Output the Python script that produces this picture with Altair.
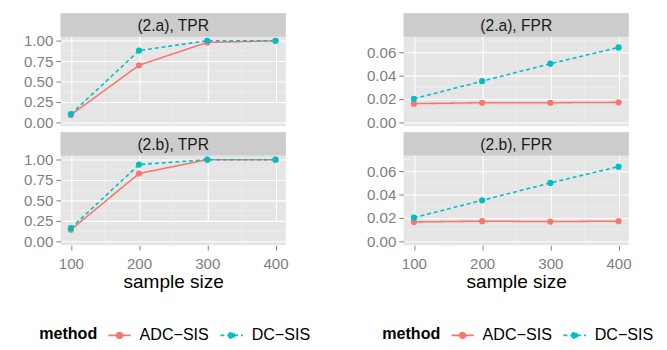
import altair as alt
import pandas as pd

sample_size = [100, 200, 300, 400]
methods = ["ADC\u2212SIS", "DC\u2212SIS"]

tpr_a_adc = [0.09, 0.70, 0.98, 1.00]
tpr_a_dc = [0.10, 0.88, 1.00, 1.00]
tpr_b_adc = [0.14, 0.83, 1.00, 1.00]
tpr_b_dc = [0.16, 0.94, 1.00, 1.00]
fpr_a_adc = [0.0160, 0.0168, 0.0168, 0.0171]
fpr_a_dc = [0.0202, 0.0353, 0.0503, 0.0643]
fpr_b_adc = [0.0165, 0.0172, 0.0168, 0.0172]
fpr_b_dc = [0.0202, 0.0351, 0.0500, 0.0640]

x_ticks = [100, 200, 300, 400]
x_minor = [150, 250, 350]
tpr_ticks = [0.0, 0.25, 0.5, 0.75, 1.0]
tpr_minor = [0.125, 0.375, 0.625, 0.875]
fpr_ticks = [0.0, 0.02, 0.04, 0.06]
fpr_minor = [0.01, 0.03, 0.05, 0.07]

COLORS = ["#F8766D", "#00BFC4"]
FONT = "Liberation Sans"
W, PH, SH = 231, 92, 24

LEG_PATH = "M-1,0L1,0M-0.26,0A0.26,0.26,0,1,1,0.26,0A0.26,0.26,0,1,1,-0.26,0Z"

LEGEND = alt.Legend(
    orient="none", legendX=-22, legendY=318,
    direction="horizontal", title="method", titleOrient="left",
    symbolType=LEG_PATH, symbolSize=529, symbolStrokeWidth=1.6,
)


def make_df(adc, dc):
    rows = []
    for m, vals in zip(methods, [adc, dc]):
        for n, v in zip(sample_size, vals):
            rows.append({"n": n, "method": m, "value": v})
    return pd.DataFrame(rows)


def panel(df, label, ydomain, yticks, yminor, bottom):
    xs = alt.Scale(domain=[85, 415], nice=False, zero=False)
    ys = alt.Scale(domain=ydomain, nice=False, zero=False, range=[SH + PH, SH])
    if bottom:
        xaxis = alt.Axis(values=x_ticks, format="d", title="sample size", grid=True)
    else:
        xaxis = alt.Axis(values=x_ticks, labels=False, ticks=False, title=None, grid=True)
    yaxis = alt.Axis(values=yticks, format=".2f", title=None, grid=True)

    def xe():
        return alt.X("n:Q", scale=xs, axis=xaxis)

    def ye():
        return alt.Y("value:Q", scale=ys, axis=yaxis)

    mx = alt.Chart(pd.DataFrame({"n": x_minor})).mark_rule(
        color="#F2F2F2", strokeWidth=0.6).encode(x=xe())
    my = alt.Chart(pd.DataFrame({"value": yminor})).mark_rule(
        color="#F2F2F2", strokeWidth=0.6).encode(y=ye())

    sd = alt.Chart(pd.DataFrame({"label": [label]}))
    srect = sd.mark_rect(color="#CCCCCC").encode(
        x=alt.value(0), x2=alt.value(W), y=alt.value(0), y2=alt.value(SH))
    stext = sd.mark_text(fontSize=16, color="#1A1A1A", font=FONT).encode(
        x=alt.value(W / 2), y=alt.value(SH / 2 + 1), text="label:N")

    cenc = alt.Color("method:N", scale=alt.Scale(domain=methods, range=COLORS),
                     legend=LEGEND)
    denc = alt.StrokeDash("method:N",
                          scale=alt.Scale(domain=methods, range=[[1, 0], [4, 3]]),
                          legend=LEGEND)
    base = alt.Chart(df)
    line = base.mark_line(strokeWidth=1.6).encode(x=xe(), y=ye(), color=cenc, strokeDash=denc)
    pts = base.mark_point(filled=True, size=40, opacity=1).encode(x=xe(), y=ye(), color=cenc)
    return alt.layer(mx, my, srect, stext, line, pts).properties(width=W, height=SH + PH)


def column(metric, da, db, ydomain, yticks, yminor):
    a = panel(da, f"(2.a), {metric}", ydomain, yticks, yminor, False)
    b = panel(db, f"(2.b), {metric}", ydomain, yticks, yminor, True)
    return alt.vconcat(a, b, spacing=0)


left = column("TPR", make_df(tpr_a_adc, tpr_a_dc), make_df(tpr_b_adc, tpr_b_dc),
              [-0.05, 1.05], tpr_ticks, tpr_minor)
right = column("FPR", make_df(fpr_a_adc, fpr_a_dc), make_df(fpr_b_adc, fpr_b_dc),
               [-0.0035, 0.0735], fpr_ticks, fpr_minor)

chart = alt.hconcat(left, right, spacing=56).resolve_scale(
    color="independent", strokeDash="independent", y="independent", x="independent"
).properties(
    padding={"left": 15, "top": 0, "right": 5, "bottom": 0}
).configure(font=FONT).configure_view(
    fill="#E5E5E5", stroke=None
).configure_axis(
    domain=False, labelColor="#7F7F7F", labelFontSize=15.5, tickColor="#7F7F7F",
    tickSize=5, labelPadding=3, gridColor="#FFFFFF", gridWidth=1.1,
    titleFontSize=19.5, titleFontWeight="normal", titleColor="#000000", titlePadding=1,
    labelFont=FONT, titleFont=FONT,
).configure_axisX(labelPadding=7).configure_legend(
    titleFontSize=16.5, labelFontSize=16.5, titleFontWeight="bold", titleColor="#000000",
    labelColor="#000000", titleFont=FONT, labelFont=FONT, columnPadding=7,
    labelOffset=8, titlePadding=10,
)

chart.save("out.html", embed_options={"renderer": "svg", "actions": False})
